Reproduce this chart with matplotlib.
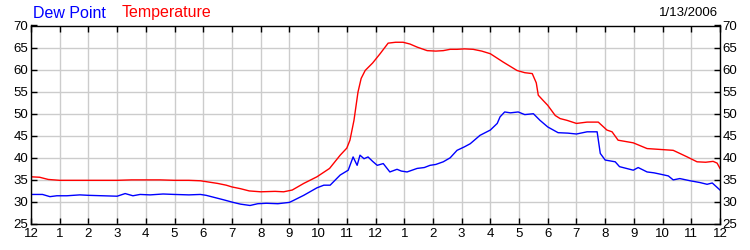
import matplotlib
matplotlib.use("Agg")
import matplotlib.pyplot as plt

plt.rcParams['font.family'] = ['Liberation Sans', 'DejaVu Sans']

# Hours since midnight and readings (°F)
temp_hours = [0, 0.3, 0.6, 1.0, 1.5, 2.0, 2.5, 3.0, 3.5, 4.0, 4.5, 5.0, 5.5, 5.9, 6.2,
              6.5, 6.8, 7.0, 7.3, 7.6, 8.0, 8.5, 8.8, 9.1, 9.5, 9.96, 10.4, 10.77,
              11.0, 11.11, 11.25, 11.39, 11.5, 11.64, 11.9, 12.16, 12.44, 12.7, 12.96,
              13.2, 13.45, 13.8, 14.1, 14.36, 14.6, 14.84, 15.1, 15.4, 15.7, 16.0,
              16.45, 16.93, 17.2, 17.46, 17.6, 17.67, 17.84, 18.0, 18.26, 18.43, 18.67,
              19.0, 19.37, 19.76, 20.06, 20.24, 20.45, 20.98, 21.46, 21.92, 22.37,
              22.6, 22.86, 23.2, 23.5, 23.76, 23.9, 24.0]
temp_values = [35.7, 35.6, 35.1, 34.9, 34.9, 34.9, 34.9, 34.9, 35.0, 35.0, 35.0, 34.9,
               34.9, 34.8, 34.5, 34.2, 33.8, 33.4, 33.0, 32.5, 32.3, 32.4, 32.3, 32.7,
               34.2, 35.7, 37.6, 40.6, 42.2, 44.0, 48.5, 54.9, 58.0, 59.8, 61.5, 63.6,
               66.0, 66.2, 66.2, 65.8, 65.1, 64.3, 64.2, 64.3, 64.6, 64.6, 64.7, 64.6,
               64.2, 63.6, 61.7, 59.8, 59.3, 59.1, 57.0, 54.2, 53.0, 51.9, 49.6, 48.9,
               48.5, 47.8, 48.1, 48.1, 46.3, 45.9, 44.0, 43.4, 42.1, 41.9, 41.7, 41.0,
               40.2, 39.1, 39.0, 39.2, 38.8, 37.6]

dew_hours = [0, 0.4, 0.66, 0.9, 1.25, 1.7, 2.0, 2.5, 3.0, 3.28, 3.55, 3.8, 4.15, 4.6,
             5.0, 5.5, 5.9, 6.1, 6.4, 6.7, 7.04, 7.3, 7.63, 7.9, 8.2, 8.6, 9.0, 9.13,
             9.5, 9.96, 10.2, 10.42, 10.77, 11.05, 11.22, 11.36, 11.46, 11.6, 11.74,
             11.9, 12.06, 12.27, 12.5, 12.75, 12.9, 13.1, 13.45, 13.7, 13.9, 14.1,
             14.36, 14.6, 14.84, 15.1, 15.3, 15.64, 16.0, 16.24, 16.34, 16.5, 16.7,
             16.97, 17.2, 17.5, 17.73, 18.0, 18.36, 18.7, 19.0, 19.37, 19.72, 19.83,
             20.0, 20.35, 20.5, 20.98, 21.15, 21.46, 21.7, 21.92, 22.2, 22.37, 22.6,
             22.96, 23.3, 23.55, 23.73, 24.0]
dew_values = [31.7, 31.7, 31.2, 31.4, 31.4, 31.6, 31.5, 31.4, 31.3, 31.9, 31.4, 31.7,
              31.6, 31.8, 31.7, 31.6, 31.7, 31.5, 31.0, 30.5, 29.9, 29.5, 29.2, 29.6,
              29.7, 29.6, 29.9, 30.3, 31.5, 33.2, 33.8, 33.8, 36.1, 37.2, 40.2, 38.3,
              40.6, 39.8, 40.2, 39.2, 38.3, 38.7, 36.8, 37.4, 37.0, 36.8, 37.6, 37.8,
              38.3, 38.5, 39.1, 40.0, 41.7, 42.5, 43.2, 45.1, 46.3, 47.8, 49.3, 50.4,
              50.2, 50.4, 49.8, 50.0, 48.5, 47.0, 45.7, 45.6, 45.4, 45.9, 45.9, 41.0,
              39.5, 39.1, 38.0, 37.2, 37.8, 36.8, 36.6, 36.3, 35.9, 35.0, 35.3, 34.8,
              34.4, 34.0, 34.3, 32.7]

x_ticks = list(range(0, 25))
x_labels = ['12', '1', '2', '3', '4', '5', '6', '7', '8', '9', '10', '11',
            '12', '1', '2', '3', '4', '5', '6', '7', '8', '9', '10', '11', '12']
y_ticks = [25, 30, 35, 40, 45, 50, 55, 60, 65, 70]

fig = plt.figure(figsize=(7.5, 2.5), dpi=100)
ax = fig.add_axes([31/750, 1 - 224/250, (720 - 31)/750, (224 - 25.5)/250])

ax.plot(dew_hours, dew_values, color='#0000ff', lw=1.0)
ax.plot(temp_hours, temp_values, color='#ff0000', lw=1.0)

ax.set_xlim(0, 24)
ax.set_ylim(25, 70)
ax.set_xticks(x_ticks)
ax.set_xticklabels(x_labels)
ax.set_yticks(y_ticks)
ax.grid(True, color='#cccccc', lw=1.0)
ax.set_axisbelow(True)
ax.tick_params(axis='both', direction='in', length=4, width=1, color='black',
               labelsize=9.5, labelcolor='#000000', pad=3,
               top=True, right=True, labelright=True, labelleft=True)
ax.tick_params(axis='y', pad=2)
for s in ax.spines.values():
    s.set_color('black')
    s.set_linewidth(1.0)

fig.text(33/750, 1 - 13/250, 'Dew Point', color='#0000ff', fontsize=11.5,
         ha='left', va='center')
fig.text(122/750, 1 - 13/250, 'Temperature', color='#ff0000', fontsize=11.5,
         ha='left', va='center')
fig.text(718/750, 1 - 13/250, '1/13/2006', color='#000000', fontsize=9.5,
         ha='right', va='center')

fig.savefig('out.png', dpi=100)
